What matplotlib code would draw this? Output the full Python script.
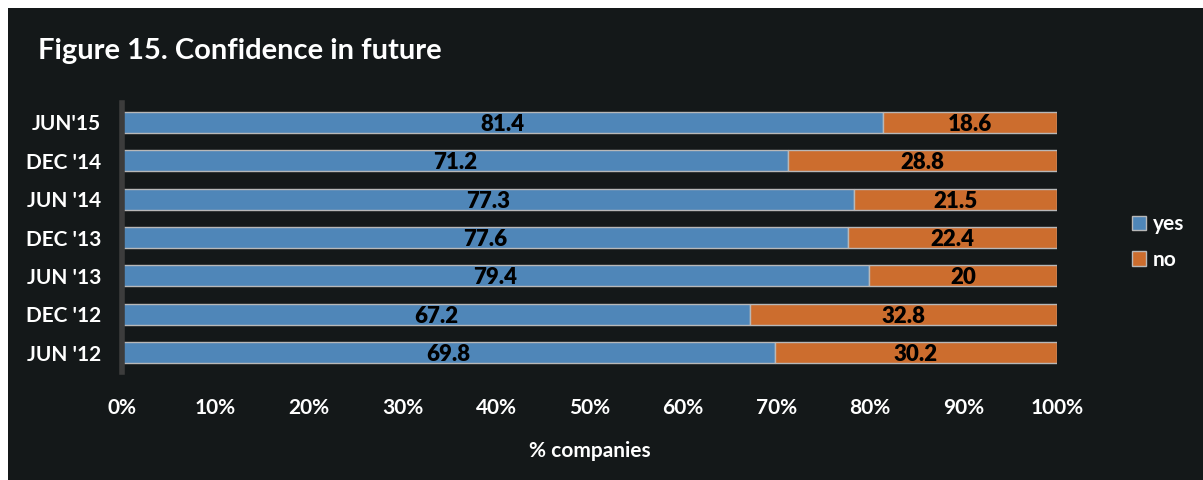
import matplotlib.pyplot as plt
from matplotlib.patches import Rectangle, Patch
from matplotlib.ticker import PercentFormatter

plt.rcParams['font.family'] = ['Lato', 'DejaVu Sans']
plt.rcParams['font.weight'] = 'bold'

labels = ["JUN'15", "DEC '14", "JUN '14", "DEC '13", "JUN '13", "DEC '12", "JUN '12"]
yes = [81.4, 71.2, 77.3, 77.6, 79.4, 67.2, 69.8]
no = [18.6, 28.8, 21.5, 22.4, 20, 32.8, 30.2]

BG = '#141819'
BLUE = '#4f86b8'
ORANGE = '#cc6d2e'
EDGE = '#b8b8b8'

# 100% stacked: each row scaled to its own total
totals = [a + b for a, b in zip(yes, no)]
yes_pct = [a / t * 100 for a, t in zip(yes, totals)]
no_pct = [b / t * 100 for b, t in zip(no, totals)]

fig = plt.figure(figsize=(12.03, 4.8), dpi=100, facecolor='white')
# dark panel with a thin white margin on the top and left
fig.patches.append(Rectangle((8 / 1203, 0), 1, 1 - 8 / 480,
                             transform=fig.transFigure, facecolor=BG,
                             edgecolor='none', zorder=-10))

ax = fig.add_axes([122 / 1203, 1 - 372 / 480, (1057 - 122) / 1203, 269 / 480])
ax.set_facecolor('none')

pos = list(range(len(labels)))
b1 = ax.barh(pos, yes_pct, height=0.55, color=BLUE, edgecolor=EDGE, linewidth=1.0, label='yes')
b2 = ax.barh(pos, no_pct, left=yes_pct, height=0.55, color=ORANGE, edgecolor=EDGE,
             linewidth=1.0, label='no')
anns = ax.bar_label(b1, labels=[f'{v:g}' for v in yes], label_type='center', color='black',
                    fontsize=16, fontweight='heavy')
anns += ax.bar_label(b2, labels=[f'{v:g}' for v in no], label_type='center', color='black',
                     fontsize=16, fontweight='heavy')
for a in anns:
    a.set_va('center_baseline')

ax.set_xlim(0, 100)
ax.set_ylim(len(labels) - 0.5, -0.5)
ax.set_yticks(pos)
ax.set_yticklabels(labels)
ax.set_xticks(range(0, 101, 10))
ax.xaxis.set_major_formatter(PercentFormatter(decimals=0))

for s in ['top', 'right', 'bottom']:
    ax.spines[s].set_visible(False)
ax.spines['left'].set_color('#3c3c3c')
ax.spines['left'].set_linewidth(4)
ax.tick_params(axis='both', length=0, colors='white', labelsize=15)
ax.tick_params(axis='x', pad=19)
ax.tick_params(axis='y', pad=15)

ax.set_xlabel('% companies', color='white', fontsize=15, fontweight='bold', labelpad=16)

fig.text(38 / 1203, 1 - 51 / 480, 'Figure 15. Confidence in future', color='white',
         fontsize=21, fontweight='bold', va='center', ha='left')

handles = [Patch(facecolor=BLUE, edgecolor=EDGE), Patch(facecolor=ORANGE, edgecolor=EDGE)]
leg = fig.legend(handles, ['yes', 'no'], loc='center left',
                 bbox_to_anchor=(1113 / 1203, 1 - 242 / 480), frameon=False,
                 fontsize=15, handlelength=0.7, handleheight=0.7, handletextpad=0.3,
                 labelspacing=0.75)
for t in leg.get_texts():
    t.set_color('white')

fig.savefig('out.png', dpi=100, facecolor=fig.get_facecolor())
